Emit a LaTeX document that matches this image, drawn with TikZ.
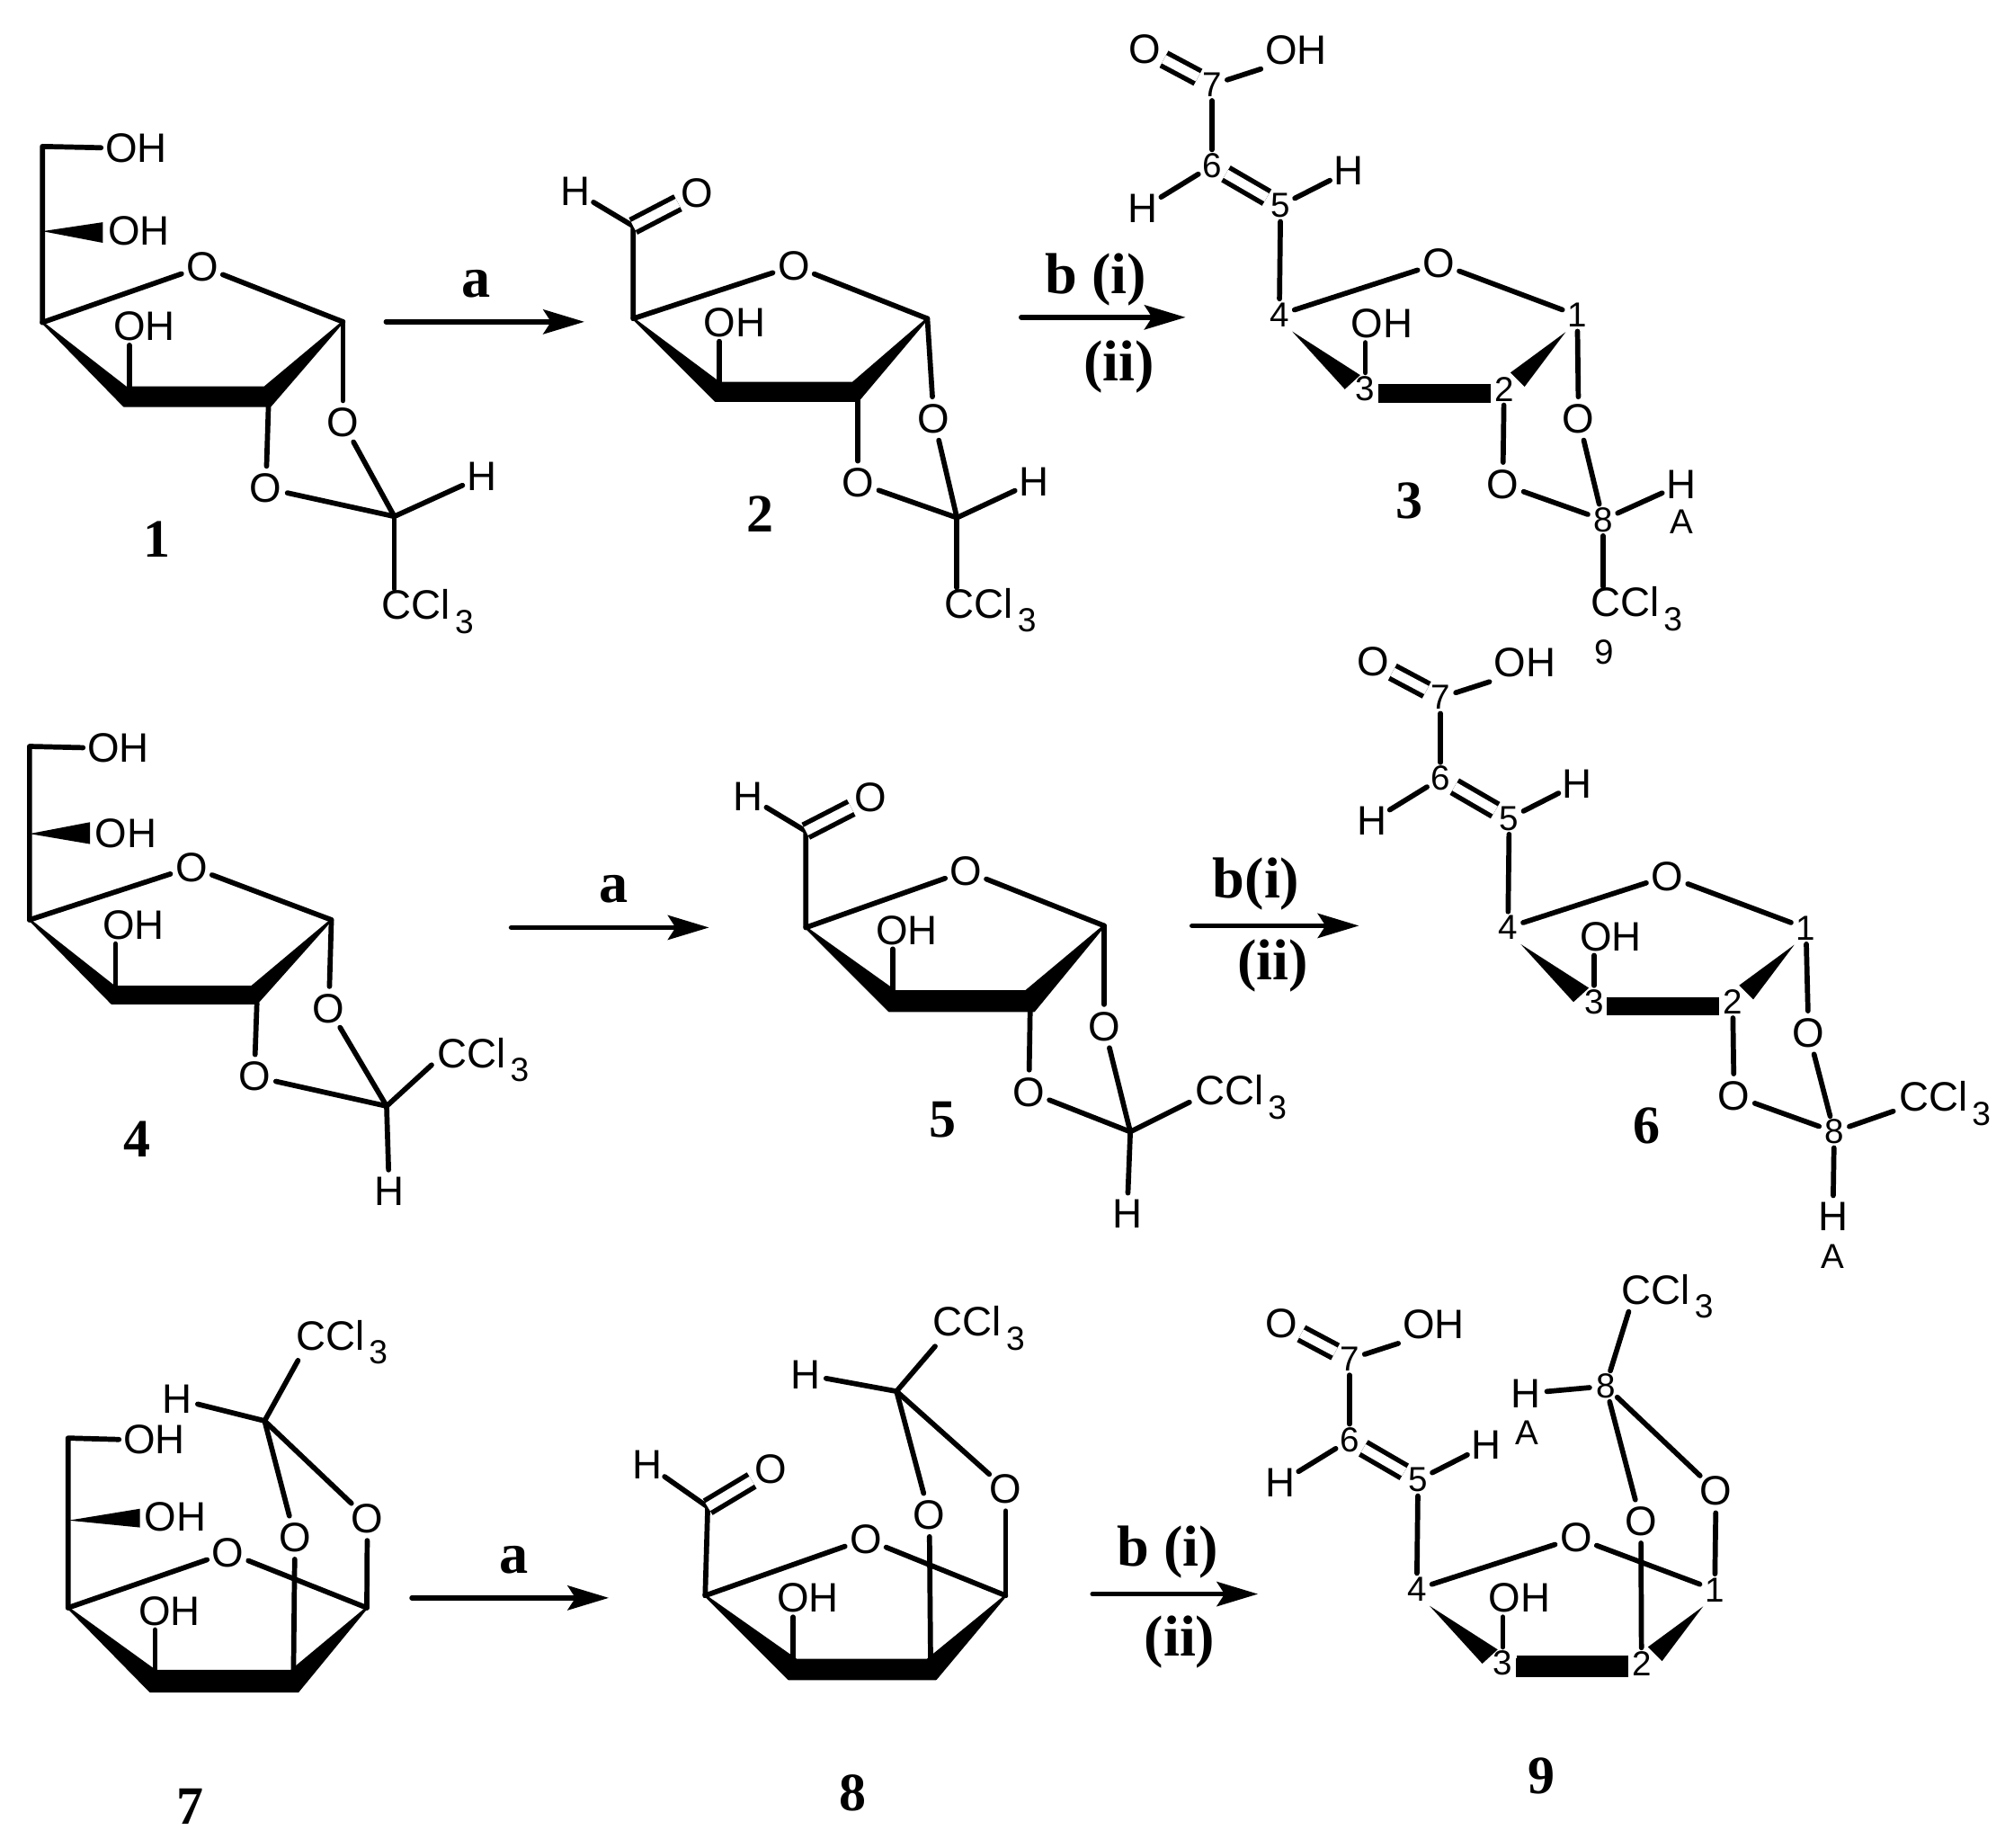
\documentclass[tikz,border=0pt]{standalone}
\usepackage{fontspec}
\setmainfont{Liberation Sans}
\newfontfamily\serifbold{Liberation Serif Bold}
\usetikzlibrary{arrows.meta}
\tikzset{
 bond/.style={line width=2pt,line cap=round,line join=round},
 dbl/.style={line width=1.9pt,double,double distance=3.6pt,line cap=butt},
 wedge/.style={fill=black},
 ringbold/.style={fill=black,draw=black,line width=.8pt,line join=round},
 atom/.style={font=\fontsize{16}{16}\selectfont,circle,inner sep=0pt,minimum size=16pt},
 grp/.style={font=\fontsize{16}{16}\selectfont,inner sep=1.5pt},
 num/.style={font=\fontsize{13.5}{13.5}\selectfont,circle,inner sep=0pt,minimum size=12pt},
 small/.style={font=\fontsize{13.5}{13.5}\selectfont,inner sep=0pt},
 ccl/.style={font=\fontsize{16}{16}\selectfont,inner sep=0pt,anchor=base west},
 cmpd/.style={font=\serifbold\fontsize{21}{21}\selectfont,inner sep=0pt},
 cond/.style={font=\serifbold\fontsize{22.5}{22.5}\selectfont,inner sep=0pt},
 rxn/.style={line width=1.9pt,line cap=round,-{Stealth[length=16pt,width=9.5pt,inset=3pt]}}
}
\newcommand\cclthree{CCl\hspace{1.8pt}\raisebox{-5.4pt}{\fontsize{13}{13}\selectfont 3}}
% the acid with numbered ring, used three times
\newcommand\acidmol[3]{%
\begin{scope}[shift={(#2,#3)}]
\node[atom] (#1o7) at (891,38) {O};
\node[grp] (#1oh7) at (1009,39) {OH};
\node[num] (#1c7) at (943.6,66) {7};
\node[num] (#1c6) at (943.6,129) {6};
\node[atom] (#1h6) at (890,162) {H};
\node[num] (#1c5) at (997,160) {5};
\node[atom] (#1h5) at (1050,133) {H};
\node[num] (#1c4) at (996,245) {4};
\node[atom] (#1or) at (1120,205) {O};
\node[num] (#1c1) at (1228,245.5) {1};
\node[grp] (#1oh3) at (1076,252) {OH};
\node[num] (#1c3) at (1063,302.6) {3};
\node[num] (#1c2) at (1171,303) {2};
\draw[dbl] (#1c7) -- (#1o7);
\draw[bond] (#1c7) -- (#1oh7.south west);
\draw[bond] (#1c7) -- (#1c6);
\draw[bond] (#1c6) -- (#1h6);
\draw[dbl] (#1c6) -- (#1c5);
\draw[bond] (#1c5) -- (#1h5);
\draw[bond] (#1c5) -- (#1c4);
\draw[bond] (#1c4) -- (#1or);
\draw[bond] (#1or) -- (#1c1);
\draw[bond] (#1c3) -- (#1c3 |- #1oh3.south);
\fill[wedge] (1006,258) -- (1059,292) -- (1047,303) -- cycle;
\fill[wedge] (1219,258.4) -- (1176,290) -- (1187,301) -- cycle;
\fill[wedge] (1073,299) rectangle (1160.6,313.5);
\end{scope}}
\begin{document}
\begin{tikzpicture}[x=0.5pt,y=-0.5pt]
\useasboundingbox (0,0) rectangle (1568,1438.5);
\fill[white] (0,0) rectangle (1568,1438.5);
% ---------- 1 ----------
\coordinate (a1top) at (33,114);
\coordinate (a1mid) at (33,180);
\coordinate (a1c4) at (33,251);
\coordinate (a1c1) at (267,250.5);
\coordinate (a1c3) at (100.6,301);
\coordinate (a1c2) at (209,316);
\coordinate (a1c8) at (307,402);
\node[grp] (a1oh1) at (106,115) {OH};
\node[grp] (a1oh2) at (108,180) {OH};
\node[grp] (a1oh3) at (112.5,254) {OH};
\node[atom] (a1or) at (157.5,207.5) {O};
\node[atom] (a1o1) at (267,329) {O};
\node[atom] (a1o2) at (207,380) {O};
\node[atom] (a1h) at (375,371) {H};
\node[ccl] (a1ccl) at (297,482) {\cclthree};
\node[cmpd] (l1) at (122,420) {1};
\draw[bond] (a1oh1.west) -- (a1top) -- (a1c4);
\fill[wedge] (a1mid) -- (80,173) -- (80,189) -- cycle;
\draw[bond] (a1c4) -- (a1or);
\draw[bond] (a1or) -- (a1c1);
\fill[ringbold] (a1c4) -- (98,301.5) -- (206,301.5) -- (a1c1) -- (210.5,316) -- (96.5,316) -- cycle;
\draw[bond] (a1c3) -- (a1c3 |- a1oh3.south);
\draw[bond] (a1c1) -- (a1o1);
\draw[bond] (a1c2) -- (a1o2);
\draw[bond] (a1o1) -- (a1c8);
\draw[bond] (a1o2) -- (a1c8);
\draw[bond] (a1c8) -- (a1h);
\draw[bond] (a1c8) -- (a1c8 |- a1ccl.north);
% arrow a
\coordinate (r1s) at (300.5,250.5);
\coordinate (r1e) at (455,250.5);
\draw[rxn] (r1s) -- (r1e);
\node[cond] (r1l) at (371,221) {a};
% ---------- 2 ----------
\coordinate (a2cho) at (493,176);
\coordinate (a2c4) at (493,248);
\coordinate (a2c1) at (722,248);
\coordinate (a2c3) at (560,298);
\coordinate (a2c2) at (668,312);
\coordinate (a2c8) at (745,403);
\node[atom] (a2hc) at (448,149) {H};
\node[atom] (a2oc) at (543,150) {O};
\node[grp] (a2oh) at (572,251) {OH};
\node[atom] (a2or) at (618,207) {O};
\node[atom] (a2o1) at (727,326) {O};
\node[atom] (a2o2) at (668,376) {O};
\node[atom] (a2h) at (805,375) {H};
\node[ccl] (a2ccl) at (735,481) {\cclthree};
\node[cmpd] (l2) at (592,400) {2};
\draw[bond] (a2hc) -- (a2cho) -- (a2c4);
\draw[dbl] (a2cho) -- (a2oc);
\draw[bond] (a2c4) -- (a2or);
\draw[bond] (a2or) -- (a2c1);
\fill[ringbold] (a2c4) -- (560,298) -- (664,298) -- (a2c1) -- (668,312) -- (557,312) -- cycle;
\draw[bond] (a2c3) -- (a2c3 |- a2oh.south);
\draw[bond] (a2c1) -- (a2o1);
\draw[bond] (a2c2) -- (a2o2);
\draw[bond] (a2o1) -- (a2c8);
\draw[bond] (a2o2) -- (a2c8);
\draw[bond] (a2c8) -- (a2h);
\draw[bond] (a2c8) -- (a2c8 |- a2ccl.north);
% arrow b
\coordinate (r2s) at (795,247);
\coordinate (r2e) at (923,247);
\draw[rxn] (r2s) -- (r2e);
\node[cond] (r2l) at (853,217.6) {b (i)};
\node[cond] (r2m) at (871,285.6) {(ii)};
% ---------- 3 ----------
\acidmol{m}{0}{0}
\node[atom] (mo1) at (1229,326) {O};
\node[atom] (mo2) at (1170,377) {O};
\node[num] (mc8) at (1248,404.6) {8};
\node[atom] (mh) at (1309,377) {H};
\node[small] (mA) at (1309.5,406) {A};
\node[ccl] (mccl) at (1238,480) {\cclthree};
\node[small] (m9) at (1249,508) {9};
\node[cmpd] (l3) at (1097.5,390) {3};
\draw[bond] (mc1) -- (mo1);
\draw[bond] (mc2) -- (mo2);
\draw[bond] (mo1) -- (mc8);
\draw[bond] (mo2) -- (mc8);
\draw[bond] (mc8) -- (mh);
\draw[bond] (mc8) -- (mc8 |- mccl.north);
% ---------- 4 ----------
\coordinate (d1top) at (23,581);
\coordinate (d1mid) at (23,649);
\coordinate (d1c4) at (23,716);
\coordinate (d1c1) at (258,716);
\coordinate (d1c3) at (90,768);
\coordinate (d1c2) at (200,781);
\coordinate (d1c8) at (301,861);
\node[grp] (d1oh1) at (92,582) {OH};
\node[grp] (d1oh2) at (98,649) {OH};
\node[grp] (d1oh3) at (104,720) {OH};
\node[atom] (d1or) at (149,675) {O};
\node[atom] (d1o1) at (256,785) {O};
\node[atom] (d1o2) at (198,838) {O};
\node[atom] (d1h) at (303,927) {H};
\node[ccl] (d1ccl) at (340,831) {\cclthree};
\node[cmpd] (l4) at (107,887) {4};
\draw[bond] (d1oh1.west) -- (d1top) -- (d1c4);
\fill[wedge] (d1mid) -- (70,640) -- (70,657) -- cycle;
\draw[bond] (d1c4) -- (d1or);
\draw[bond] (d1or) -- (d1c1);
\fill[ringbold] (d1c4) -- (89,768) -- (196,768) -- (d1c1) -- (200,781) -- (87,781) -- cycle;
\draw[bond] (d1c3) -- (d1c3 |- d1oh3.south);
\draw[bond] (d1c1) -- (d1o1);
\draw[bond] (d1c2) -- (d1o2);
\draw[bond] (d1o1) -- (d1c8);
\draw[bond] (d1o2) -- (d1c8);
\draw[bond] (d1c8) -- (d1h);
\draw[bond] (d1c8) -- ([xshift=-2pt,yshift=1pt]d1ccl.base west);
\coordinate (r3s) at (398,722);
\coordinate (r3e) at (552,722);
\draw[rxn] (r3s) -- (r3e);
\node[cond] (r3l) at (478,692) {a};
% ---------- 5 ----------
\coordinate (d2cho) at (627.4,647);
\coordinate (d2c4) at (627.4,722);
\coordinate (d2c1) at (859.6,720.6);
\coordinate (d2c3) at (695,771.6);
\coordinate (d2c2) at (802,787);
\coordinate (d2c8) at (880,881);
\node[atom] (d2hc) at (582.6,620) {H};
\node[atom] (d2oc) at (678,621) {O};
\node[grp] (d2oh) at (706,724) {OH};
\node[atom] (d2or) at (752,678) {O};
\node[atom] (d2o1) at (859.6,799) {O};
\node[atom] (d2o2) at (801,850) {O};
\node[atom] (d2h) at (877.5,945) {H};
\node[ccl] (d2ccl) at (930,860) {\cclthree};
\node[cmpd] (l5) at (734,871.5) {5};
\draw[bond] (d2hc) -- (d2cho) -- (d2c4);
\draw[dbl] (d2cho) -- (d2oc);
\draw[bond] (d2c4) -- (d2or);
\draw[bond] (d2or) -- (d2c1);
\fill[ringbold] (d2c4) -- (697,771.6) -- (798.6,771.6) -- (d2c1) -- (805,787) -- (692.4,787) -- cycle;
\draw[bond] (d2c3) -- (d2c3 |- d2oh.south);
\draw[bond] (d2c1) -- (d2o1);
\draw[bond] (d2c2) -- (d2o2);
\draw[bond] (d2o1) -- (d2c8);
\draw[bond] (d2o2) -- (d2c8);
\draw[bond] (d2c8) -- (d2h);
\draw[bond] (d2c8) -- ([xshift=-2pt,yshift=1pt]d2ccl.base west);
\coordinate (r4s) at (928,720.6);
\coordinate (r4e) at (1058,720.6);
\draw[rxn] (r4s) -- (r4e);
\node[cond] (r4l) at (978,688) {b(i)};
\node[cond] (r4m) at (991,752) {(ii)};
% ---------- 6 ----------
\acidmol{d}{178}{477}
\node[atom] (do1) at (1408,804) {O};
\node[atom] (do2) at (1350,853) {O};
\node[num] (dc8) at (1428,881) {8};
\node[atom] (dh) at (1427,947) {H};
\node[small] (dA) at (1427,978) {A};
\node[ccl] (dccl) at (1478,865) {\cclthree};
\node[cmpd] (l6) at (1282,876) {6};
\draw[bond] (dc1) -- (do1);
\draw[bond] (dc2) -- (do2);
\draw[bond] (do1) -- (dc8);
\draw[bond] (do2) -- (dc8);
\draw[bond] (dc8) -- (dh);
\draw[bond] (dc8) -- ([xshift=-2pt,yshift=0pt]dccl.base west);
% ---------- 7 ----------
\coordinate (t1top) at (53,1119.4);
\coordinate (t1mid) at (53.5,1183.5);
\coordinate (t1c4) at (53,1251.5);
\coordinate (t1c1) at (285.6,1251.5);
\coordinate (t1c3) at (120.7,1300.6);
\coordinate (t1c2) at (228.5,1300.6);
\coordinate (t1c8) at (206,1106);
\node[grp] (t1oh1) at (120,1120.5) {OH};
\node[grp] (t1oh2) at (136.4,1180.5) {OH};
\node[grp] (t1oh3) at (132,1254) {OH};
\node[atom] (t1or) at (177.4,1208.5) {O};
\node[atom] (t1o1) at (286,1182) {O};
\node[atom] (t1o2) at (229.6,1196.6) {O};
\node[atom] (t1h) at (138,1089) {H};
\node[ccl] (t1ccl) at (230,1051) {\cclthree};
\node[cmpd] (l7) at (148,1406) {7};
\draw[bond] (t1oh1.west) -- (t1top) -- (t1c4);
\fill[wedge] (t1mid) -- (109,1174.4) -- (109,1189) -- cycle;
\draw[bond] (t1c4) -- (t1or);
\draw[bond] (t1or) -- (t1c1);
\fill[ringbold] (t1c4) -- (121,1300.6) -- (226.7,1300.6) -- (t1c1) -- (232,1316.7) -- (117,1316.7) -- cycle;
\draw[bond] (t1c3) -- (t1c3 |- t1oh3.south);
\draw[bond] (t1c1) -- (t1o1);
\draw[bond] (t1c2) -- (t1o2);
\draw[bond] (t1o1) -- (t1c8);
\draw[bond] (t1o2) -- (t1c8);
\draw[bond] (t1c8) -- (t1h);
\draw[bond] (t1c8) -- ([xshift=1pt,yshift=-4pt]t1ccl.base west);
\coordinate (r5s) at (320.6,1243.8);
\coordinate (r5e) at (474,1243.8);
\draw[rxn] (r5s) -- (r5e);
\node[cond] (r5l) at (400,1214.6) {a};
% ---------- 8 ----------
\coordinate (t2cho) at (551,1173);
\coordinate (t2c4) at (549,1242);
\coordinate (t2c1) at (783,1242);
\coordinate (t2c3) at (617.4,1292);
\coordinate (t2c2) at (724.5,1292);
\coordinate (t2c8) at (698,1083);
\node[atom] (t2hc) at (504,1140) {H};
\node[atom] (t2oc) at (600,1143.6) {O};
\node[grp] (t2oh) at (629,1244) {OH};
\node[atom] (t2or) at (674,1198) {O};
\node[atom] (t2o1) at (783,1159) {O};
\node[atom] (t2o2) at (723.5,1179) {O};
\node[atom] (t2h) at (627,1070) {H};
\node[ccl] (t2ccl) at (726,1040) {\cclthree};
\node[cmpd] (l8) at (664,1396) {8};
\draw[bond] (t2hc) -- (t2cho) -- (t2c4);
\draw[dbl] (t2cho) -- (t2oc);
\draw[bond] (t2c4) -- (t2or);
\draw[bond] (t2or) -- (t2c1);
\fill[ringbold] (t2c4) -- (620,1292) -- (722,1292) -- (t2c1) -- (728.6,1307) -- (614,1307) -- cycle;
\draw[bond] (t2c3) -- (t2c3 |- t2oh.south);
\draw[bond] (t2c1) -- (t2o1);
\draw[bond] (t2c2) -- (t2o2);
\draw[bond] (t2o1) -- (t2c8);
\draw[bond] (t2o2) -- (t2c8);
\draw[bond] (t2c8) -- (t2h);
\draw[bond] (t2c8) -- ([xshift=1pt,yshift=-4pt]t2ccl.base west);
\coordinate (r6s) at (850.6,1240.8);
\coordinate (r6e) at (979.4,1240.8);
\draw[rxn] (r6s) -- (r6e);
\node[cond] (r6l) at (909,1208) {b (i)};
\node[cond] (r6m) at (918.4,1278) {(ii)};
% ---------- 9 ----------
\acidmol{t}{107}{992}
\fill[wedge] (1181,1289) rectangle (1268,1305);
\node[atom] (to1) at (1336,1160.5) {O};
\node[atom] (to2) at (1277.5,1184) {O};
\node[num] (tc8) at (1250,1079) {8};
\node[atom] (th) at (1188,1084.6) {H};
\node[small] (tA) at (1189,1115) {A};
\node[ccl] (tccl) at (1262,1015) {\cclthree};
\node[cmpd] (l9) at (1200,1382.5) {9};
\draw[bond] (tc1) -- (to1);
\draw[bond] (tc2) -- (to2);
\draw[bond] (to1) -- (tc8);
\draw[bond] (to2) -- (tc8);
\draw[bond] (tc8) -- (th);
\draw[bond] (tc8) -- ([xshift=3pt,yshift=-3pt]tccl.base west);
\end{tikzpicture}
\end{document}
